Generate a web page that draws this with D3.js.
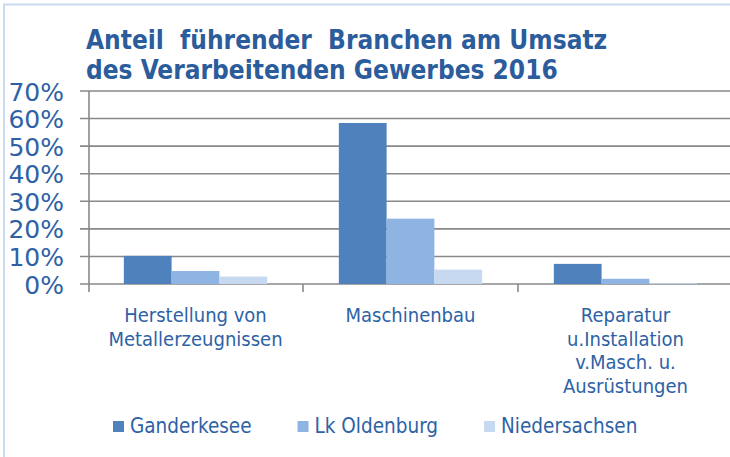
<!DOCTYPE html>
<html>
<head>
<meta charset="utf-8">
<script src="https://cdn.jsdelivr.net/npm/d3@7"></script>
<style>
  body { margin: 0; background: #fff; }
  svg text { font-family: "DejaVu Sans Condensed", "DejaVu Sans", sans-serif; }
</style>
</head>
<body>
<div id="chart"></div>
<script>
const categories = [
  ["Herstellung von", "Metallerzeugnissen"],
  ["Maschinenbau"],
  ["Reparatur", "u.Installation", "v.Masch. u.", "Ausrüstungen"]
];
const seriesNames = ["Ganderkesee", "Lk Oldenburg", "Niedersachsen"];
const ganderkesee = [0.102, 0.584, 0.073];
const lkOldenburg = [0.047, 0.237, 0.019];
const niedersachsen = [0.027, 0.052, 0.003];
const yTicks = [0, 0.1, 0.2, 0.3, 0.4, 0.5, 0.6, 0.7];
const colors = ["#4f81bd", "#8eb4e3", "#c6d9f1"];

const W = 730, H = 457;
const plot = { left: 88, right: 733, top: 91, bottom: 284 };
const textBlue = "#2e62a5";

const series = [ganderkesee, lkOldenburg, niedersachsen];
const catKeys = categories.map((c, i) => i);

const svg = d3.select("#chart")
  .append("svg")
  .attr("width", W)
  .attr("height", H);

// light blue frame
svg.append("path")
  .attr("d", `M4,${H + 5} V4.5 H${W + 5}`)
  .attr("fill", "none")
  .attr("stroke", "#c9daf0")
  .attr("stroke-width", 2);

// title
const title = svg.append("text")
  .attr("x", 86)
  .attr("fill", "#2b5c9c")
  .style("font-weight", "bold")
  .style("font-size", "26px")
  .style("white-space", "pre");
title.append("tspan").attr("x", 86).attr("y", 49).text("Anteil  führender  Branchen am Umsatz");
title.append("tspan").attr("x", 86).attr("y", 79).text("des Verarbeitenden Gewerbes 2016");

const x0 = d3.scaleBand()
  .domain(catKeys)
  .range([plot.left, plot.right]);

const x1 = d3.scaleBand()
  .domain(d3.range(seriesNames.length))
  .range([0, x0.bandwidth()])
  .paddingOuter(0.75);

const y = d3.scaleLinear()
  .domain([0, 0.7])
  .range([plot.bottom, plot.top]);

// gridlines
svg.append("g")
  .selectAll("line")
  .data(yTicks)
  .enter().append("line")
  .attr("x1", plot.left - 8)
  .attr("x2", W)
  .attr("y1", d => y(d))
  .attr("y2", d => y(d))
  .attr("stroke", "#898989")
  .attr("stroke-width", 1.6);

// y axis
const yAxis = d3.axisLeft(y)
  .tickValues(yTicks)
  .tickFormat(d3.format(".0%"))
  .tickSize(0)
  .tickPadding(25);

const yG = svg.append("g")
  .attr("transform", `translate(${plot.left + 1},0)`)
  .call(yAxis);
yG.select(".domain").remove();
yG.selectAll("text")
  .attr("fill", textBlue)
  .attr("dy", "0.36em")
  .style("font-family", "'DejaVu Sans', sans-serif")
  .style("font-size", "25px");

svg.append("line")
  .attr("x1", plot.left + 1).attr("x2", plot.left + 1)
  .attr("y1", plot.top).attr("y2", plot.bottom + 8)
  .attr("stroke", "#898989")
  .attr("stroke-width", 1.6);

// category ticks
svg.append("g")
  .selectAll("line")
  .data(catKeys.slice(1))
  .enter().append("line")
  .attr("x1", d => x0(d))
  .attr("x2", d => x0(d))
  .attr("y1", plot.bottom)
  .attr("y2", plot.bottom + 8)
  .attr("stroke", "#898989")
  .attr("stroke-width", 1.6);

// bars
const groups = svg.append("g")
  .selectAll("g")
  .data(catKeys)
  .enter().append("g")
  .attr("transform", d => `translate(${x0(d)},0)`);

groups.selectAll("rect")
  .data(ci => series.map((s, si) => ({ si, v: s[ci] })))
  .enter().append("rect")
  .attr("x", d => x1(d.si))
  .attr("width", x1.bandwidth())
  .attr("y", d => y(d.v))
  .attr("height", d => y(0) - y(d.v))
  .attr("fill", d => colors[d.si]);

// category labels
const catText = svg.append("g")
  .selectAll("text")
  .data(catKeys)
  .enter().append("text")
  .attr("text-anchor", "middle")
  .attr("fill", textBlue)
  .style("font-size", "20px");

catText.selectAll("tspan")
  .data(ci => categories[ci].map(line => ({ ci, line })))
  .enter().append("tspan")
  .attr("x", d => x0(d.ci) + x0.bandwidth() / 2)
  .attr("y", (d, i) => 322 + i * 23.6)
  .text(d => d.line);

// legend
const legend = svg.append("g");
let lx = 113;
seriesNames.forEach((name, i) => {
  legend.append("rect")
    .attr("x", lx).attr("y", 421)
    .attr("width", 11).attr("height", 11)
    .attr("fill", colors[i]);
  const t = legend.append("text")
    .attr("x", lx + 17)
    .attr("y", 433)
    .attr("fill", textBlue)
    .style("font-size", "20.5px")
    .text(name);
  lx += 17 + t.node().getComputedTextLength() + 46;
});
</script>
</body>
</html>
